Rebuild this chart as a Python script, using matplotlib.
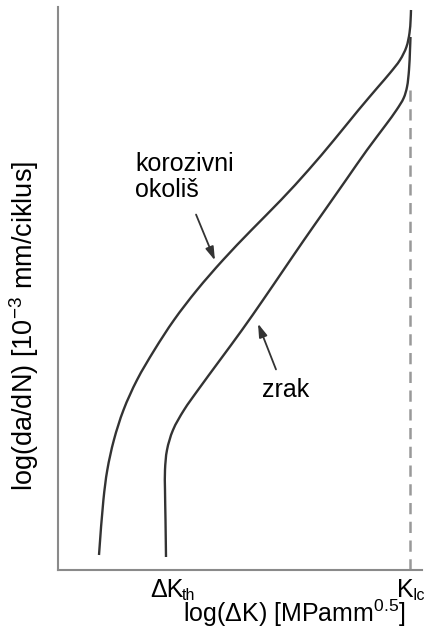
import matplotlib
matplotlib.use("Agg")
import matplotlib.pyplot as plt
import numpy as np
from matplotlib.path import Path
from matplotlib.patches import PathPatch

plt.rcParams['font.family'] = ['Liberation Sans', 'DejaVu Sans']
plt.rcParams['mathtext.fontset'] = 'custom'
plt.rcParams['mathtext.rm'] = 'Liberation Sans'
plt.rcParams['mathtext.it'] = 'Liberation Sans:italic'
plt.rcParams['mathtext.bf'] = 'Liberation Sans:bold'

# Curves (arbitrary log units, origin at the axes corner)
korozivni_x = [41, 45.4, 49.3, 55.9, 65.5, 79, 96.4, 116, 139, 165, 193.5, 223, 250.5,
               276, 300.5, 320, 332, 342, 348.4, 351.5, 352.6, 353]
korozivni_y = [15, 70, 100, 130, 160, 190, 220, 250, 280, 310, 340, 370, 400,
               430, 460, 483, 497, 510, 523, 537, 550, 560]

zrak_x = [108, 107.5, 107, 107, 109, 115, 126, 140, 162, 184, 205, 225.5, 246,
          267, 288, 309, 327.7, 338.5, 345.7, 349, 351, 352, 352.5]
zrak_y = [13, 50, 80, 100, 120, 140, 160, 180, 210, 240, 270, 300, 330,
          360, 390, 420, 445, 460, 472, 483, 500, 520, 533]

klc_x = 352
klc_top = 480

fig = plt.figure(figsize=(4.24, 6.32), dpi=100)
ax = fig.add_axes([58/424, (632-570)/632, (422-58)/424, (570-7)/632])
ax.set_xlim(0, 364)
ax.set_ylim(0, 563)


def smooth_path(xs, ys):
    """Centripetal Catmull-Rom curve through the read points, as cubic Bezier segments."""
    p = np.column_stack([xs, ys]).astype(float)
    n = len(p)
    verts = [p[0]]
    codes = [Path.MOVETO]
    for i in range(n - 1):
        p0 = p[i - 1] if i > 0 else 2 * p[i] - p[i + 1]
        p1 = p[i]
        p2 = p[i + 1]
        p3 = p[i + 2] if i + 2 < n else 2 * p[i + 1] - p[i]
        d1 = np.linalg.norm(p1 - p0) ** 0.5
        d2 = np.linalg.norm(p2 - p1) ** 0.5
        d3 = np.linalg.norm(p3 - p2) ** 0.5
        m1 = (p1 - p0) / d1 - (p2 - p0) / (d1 + d2) + (p2 - p1) / d2
        m2 = (p2 - p1) / d2 - (p3 - p1) / (d2 + d3) + (p3 - p2) / d3
        m1 *= d2
        m2 *= d2
        verts += [p1 + m1 / 3.0, p2 - m2 / 3.0, p2]
        codes += [Path.CURVE4] * 3
    return Path(verts, codes)


curve_color = '#333333'
for xs, ys in [(korozivni_x, korozivni_y), (zrak_x, zrak_y)]:
    ax.add_patch(PathPatch(smooth_path(xs, ys), facecolor='none', edgecolor=curve_color,
                           lw=1.7, capstyle='butt'))
ax.plot([klc_x, klc_x], [0, klc_top], color='#999999', lw=1.8, ls=(0, (4.5, 3)))

for s in ['top', 'right']:
    ax.spines[s].set_visible(False)
for s in ['left', 'bottom']:
    ax.spines[s].set_color('#8a8a8a')
    ax.spines[s].set_linewidth(1.5)
ax.set_xticks([])
ax.set_yticks([])

fs = 18
ax.text(135-58, 570-152, 'korozivni\nokoliš', fontsize=fs, va='top', ha='left', linespacing=1.12)
ax.annotate('', xy=(216-58, 570-263), xytext=(195-58, 570-212),
            arrowprops=dict(arrowstyle='-|>,head_length=0.8,head_width=0.25', color='#333333', lw=1.3))
ax.text(262-58, 570-397, 'zrak', fontsize=fs, va='baseline', ha='left')
ax.annotate('', xy=(257-58, 570-321), xytext=(277-58, 570-372),
            arrowprops=dict(arrowstyle='-|>,head_length=0.8,head_width=0.25', color='#333333', lw=1.3))

fig.text(150/424, 1-597/632, 'ΔK', fontsize=fs, ha='left', va='baseline')
fig.text(182/424, 1-600/632, 'th', fontsize=11.5, ha='left', va='baseline')
fig.text(397/424, 1-597/632, 'K', fontsize=fs, ha='left', va='baseline')
fig.text(412/424, 1-600/632, 'Ic', fontsize=11.5, ha='left', va='baseline')
fig.text(183/424, 1-622/632, r'log($\Delta$K) [MPamm$^{\mathrm{0.5}}$]', fontsize=fs, ha='left', va='baseline')
fig.text(24/424, 1-326/632, r'log(da/dN) [10$^{\mathrm{-3}}$ mm/ciklus]', fontsize=19.5,
         rotation=90, ha='center', va='center')

fig.savefig('out.png', dpi=100)
